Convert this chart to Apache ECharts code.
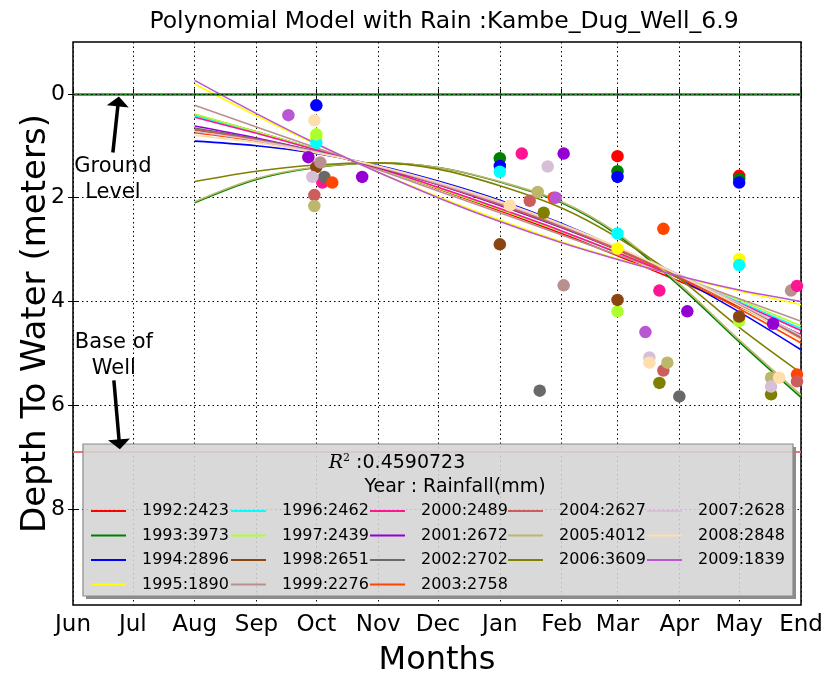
<!DOCTYPE html>
<html><head><meta charset="utf-8">
<script src="https://cdn.jsdelivr.net/npm/echarts@6/dist/echarts.min.js"></script>
<style>html,body{margin:0;padding:0;background:#fff}#chart{width:821px;height:673px}</style>
</head><body><div id="chart"></div>
<script>
// Month boundaries along a hydrological year starting in June (day offsets)
const monthLabels = ['Jun','Jul','Aug','Sep','Oct','Nov','Dec','Jan','Feb','Mar','Apr','May','End'];
const monthDays = [0,30,61,92,122,153,183,214,245,273,304,334,365];
const depthTicks = [0,2,4,6,8];
const curveDays = [61,92,122,153,183,214,245,273,304,334,365];

const years = [1992,1993,1994,1995,1996,1997,1998,1999,2000,2001,2002,2003,2004,2005,2006,2007,2008,2009];
const rainfall = [2423,3973,2896,1890,2462,2439,2651,2276,2489,2672,2702,2758,2627,4012,3609,2628,2848,1839];
const colors = ['#ff0000','#008000','#0000ff','#ffff00','#00ffff','#adff2f','#8b4513','#bc8f8f','#ff1493','#9400d3','#696969','#ff4500','#cd5c5c','#bdb76b','#808000','#d8bfd8','#ffdead','#ba55d3'];

const groundLevel = 0;
const wellBase = 6.9;
const rSquared = '0.4590723';

// Modelled depth (m) at each month boundary in curveDays
const fit1992 = [0.40,0.73,1.07,1.44,1.83,2.25,2.69,3.12,3.61,4.10,4.64];
const fit1993 = [2.10,1.65,1.42,1.33,1.42,1.70,2.10,2.72,3.70,4.78,5.85];
const fit1994 = [0.91,1.00,1.15,1.38,1.68,2.05,2.50,2.97,3.56,4.20,4.93];
const fit1995 = [-0.19,0.42,0.97,1.51,1.98,2.43,2.85,3.18,3.52,3.80,4.06];
const fit1996 = [0.42,0.74,1.07,1.44,1.81,2.22,2.65,3.06,3.53,4.01,4.52];
const fit1997 = [0.39,0.73,1.07,1.44,1.82,2.23,2.65,3.05,3.51,3.97,4.47];
const fit1998 = [0.70,0.89,1.12,1.41,1.73,2.12,2.56,2.99,3.53,4.09,4.72];
const fit1999 = [0.22,0.64,1.04,1.46,1.87,2.29,2.72,3.10,3.53,3.95,4.38];
const fit2000 = [0.45,0.76,1.08,1.43,1.80,2.21,2.64,3.06,3.54,4.03,4.56];
const fit2001 = [0.62,0.85,1.11,1.42,1.75,2.15,2.58,3.01,3.52,4.06,4.66];
const fit2002 = [0.66,0.87,1.11,1.41,1.74,2.13,2.57,3.00,3.52,4.07,4.68];
const fit2003 = [0.75,0.91,1.13,1.40,1.72,2.11,2.55,3.00,3.55,4.14,4.80];
const fit2004 = [0.68,0.88,1.12,1.41,1.74,2.13,2.56,3.00,3.52,4.08,4.70];
const fit2005 = [2.08,1.63,1.41,1.33,1.42,1.69,2.08,2.69,3.66,4.74,5.80];
const fit2006 = [1.69,1.49,1.37,1.33,1.45,1.77,2.20,2.77,3.56,4.50,5.38];
const fit2007 = [0.72,0.90,1.12,1.40,1.72,2.10,2.53,2.96,3.48,4.04,4.66];
const fit2008 = [0.80,0.94,1.14,1.39,1.70,2.07,2.51,2.95,3.50,4.08,4.74];
const fit2009 = [-0.26,0.38,0.96,1.51,2.00,2.46,2.87,3.19,3.51,3.78,4.00];

// Observed depth to water: [day, depth]
const obs1992 = [[273,1.20],[334,1.58]];
const obs1993 = [[214,1.24],[273,1.49],[334,1.64]];
const obs1994 = [[122,0.22],[214,1.39],[273,1.60],[334,1.71]];
const obs1995 = [[122,0.85],[273,2.98],[334,3.18]];
const obs1996 = [[122,0.94],[214,1.50],[273,2.69],[334,3.30]];
const obs1997 = [[122,0.78],[273,4.19],[334,4.38]];
const obs1998 = [[122,1.41],[214,2.90],[273,3.97],[334,4.29]];
const obs1999 = [[124,1.32],[246,3.69],[360,3.79]];
const obs2000 = [[125,1.71],[225,1.15],[294,3.79],[363,3.70]];
const obs2001 = [[118,1.22],[145,1.60],[246,1.15],[308,4.19],[351,4.43]];
const obs2002 = [[126,1.60],[234,5.72],[304,5.83]];
const obs2003 = [[130,1.71],[241,2.00],[296,2.60],[363,5.41]];
const obs2004 = [[121,1.95],[229,2.06],[296,5.33],[363,5.54]];
const obs2005 = [[121,2.16],[233,1.89],[298,5.18],[350,5.47]];
const obs2006 = [[236,2.29],[294,5.57],[350,5.79]];
const obs2007 = [[120,1.60],[238,1.40],[289,5.08],[350,5.64]];
const obs2008 = [[121,0.51],[219,2.15],[289,5.18],[354,5.47]];
const obs2009 = [[108,0.41],[242,2.00],[287,4.59]];

const fits = [fit1992,fit1993,fit1994,fit1995,fit1996,fit1997,fit1998,fit1999,fit2000,fit2001,fit2002,fit2003,fit2004,fit2005,fit2006,fit2007,fit2008,fit2009];
const observations = [obs1992,obs1993,obs1994,obs1995,obs1996,obs1997,obs1998,obs1999,obs2000,obs2001,obs2002,obs2003,obs2004,obs2005,obs2006,obs2007,obs2008,obs2009];

const FONT = 'DejaVu Sans';
const names = years.map((y, i) => y + ':' + rainfall[i]);

const series = [];
years.forEach((y, i) => {
  series.push({
    name: y + ' observed', type: 'scatter', symbolSize: 12.5,
    itemStyle: { color: colors[i], opacity: 1 },
    data: observations[i], z: 3
  });
  series.push({
    name: names[i], type: 'line', symbol: 'none', smooth: 0.35,
    lineStyle: { color: colors[i], width: 1.6 },
    itemStyle: { color: colors[i] },
    data: curveDays.map((d, k) => [d, fits[i][k]]), z: 3
  });
});
// ground level and base of the well
series.push({
  name: 'levels', type: 'line', data: [], silent: true, z: 2,
  markLine: {
    symbol: 'none', silent: true, label: { show: false },
    data: [
      { yAxis: groundLevel, lineStyle: { color: '#1e8c1e', width: 2.5, type: 'solid' } },
      { yAxis: groundLevel, lineStyle: { color: '#000', width: 1, type: [1.5, 3] } },
      { yAxis: wellBase, lineStyle: { color: '#f07070', width: 1.8, type: 'solid' } }
    ]
  }
});

// legend columns: 4,4,4,3,3 entries
const legendCols = [[0,4],[4,8],[8,12],[12,15],[15,18]];
const legendLeft = [91, 231, 370, 508, 647];
const legends = legendCols.map((c, k) => ({
  orient: 'vertical', left: legendLeft[k], top: 502, padding: 0,
  icon: 'rect', itemWidth: 35, itemHeight: 2, itemGap: 6.5, selectedMode: false,
  data: names.slice(c[0], c[1]), z: 20,
  textStyle: { fontFamily: FONT, fontSize: 16, color: '#000', lineHeight: 18, padding: [0, 0, 0, 11] }
}));

const xAxisBase = {
  type: 'value', min: 0, max: 365,
  axisLine: { show: false },
  axisTick: { show: true, inside: true, length: 5, customValues: monthDays, lineStyle: { color: '#000' } },
  splitLine: { show: false }
};
const yAxisBase = {
  type: 'value', min: -1, max: 9.85, inverse: true,
  axisLine: { show: false },
  axisTick: { show: true, inside: true, length: 5, customValues: depthTicks, lineStyle: { color: '#000' } },
  splitLine: { show: false }
};

const chart = echarts.init(document.getElementById('chart'), null, { renderer: 'canvas' });
chart.setOption({
  animation: false,
  backgroundColor: '#fff',
  title: {
    text: 'Polynomial Model with Rain :Kambe_Dug_Well_6.9', left: 439, top: 5, textAlign: 'center',
    textStyle: { fontFamily: FONT, fontSize: 23.5, fontWeight: 'normal', color: '#000' }
  },
  grid: { left: 73, right: 20, top: 42, bottom: 68, outerBoundsMode: 'none', containLabel: false,
    show: true, borderColor: '#000', borderWidth: 1.5, backgroundColor: 'transparent' },
  legend: legends,
  xAxis: [
    Object.assign({}, xAxisBase, {
      position: 'bottom',
      name: 'Months', nameLocation: 'middle', nameGap: 40, nameMoveOverlap: false,
      nameTextStyle: { fontFamily: FONT, fontSize: 32, color: '#000' },
      axisLabel: { show: true, customValues: monthDays, margin: 9, fontFamily: FONT, fontSize: 23, color: '#000',
        formatter: v => monthLabels[monthDays.indexOf(v)] },
      splitLine: { show: true, lineStyle: { color: '#000', width: 1, type: [1.5, 3] } }
    }),
    Object.assign({}, xAxisBase, { position: 'top', axisLabel: { show: false } })
  ],
  yAxis: [
    Object.assign({}, yAxisBase, {
      position: 'left',
      name: 'Depth To Water (meters)', nameLocation: 'middle', nameGap: 20, nameRotate: 90, nameMoveOverlap: false,
      nameTextStyle: { fontFamily: FONT, fontSize: 34, color: '#000' },
      axisLabel: { show: true, customValues: depthTicks, margin: 8, fontFamily: FONT, fontSize: 22, color: '#000' },
      splitLine: { show: true, lineStyle: { color: '#000', width: 1, type: [1.5, 3] } }
    }),
    Object.assign({}, yAxisBase, { position: 'right', axisLabel: { show: false } })
  ],
  series: series
});

// annotations and the legend frame, placed from data coordinates
const px = (d, v) => chart.convertToPixel({ gridIndex: 0 }, [d, v]);
const gTip = px(23, 0.05), gTail = px(20, 1.13), gText = px(20, 1.66);
const bTip = px(23.5, 6.85), bTail = px(20.5, 5.52), bText = px(20.5, 5.05);
const arrowHead = (tip, tail, len, half) => {
  const dx = tip[0] - tail[0], dy = tip[1] - tail[1];
  const L = Math.hypot(dx, dy), ux = dx / L, uy = dy / L;
  const bx = tip[0] - ux * len, by = tip[1] - uy * len;
  return [tip, [bx - uy * half, by + ux * half], [bx + uy * half, by - ux * half]];
};
const shaftEnd = (tip, tail, len) => {
  const dx = tip[0] - tail[0], dy = tip[1] - tail[1];
  const L = Math.hypot(dx, dy);
  return [tip[0] - dx / L * len, tip[1] - dy / L * len];
};
const annText = { fontFamily: FONT, fontSize: 21, fill: '#000', align: 'center', verticalAlign: 'middle', lineHeight: 26 };
const lg = { x: 83, y: 444, w: 710, h: 152 };
const sh = 3;
chart.setOption({
  graphic: [
    { type: 'line', z: 10, shape: { x1: gTail[0], y1: gTail[1], x2: shaftEnd(gTip, gTail, 8)[0], y2: shaftEnd(gTip, gTail, 8)[1] }, style: { stroke: '#000', lineWidth: 3.5 } },
    { type: 'polygon', z: 10, shape: { points: arrowHead(gTip, gTail, 10, 11) }, style: { fill: '#000' } },
    { type: 'text', z: 10, x: gText[0], y: gText[1], style: Object.assign({ text: 'Ground\nLevel' }, annText) },
    { type: 'line', z: 10, shape: { x1: bTail[0], y1: bTail[1], x2: shaftEnd(bTip, bTail, 8)[0], y2: shaftEnd(bTip, bTail, 8)[1] }, style: { stroke: '#000', lineWidth: 3.5 } },
    { type: 'polygon', z: 10, shape: { points: arrowHead(bTip, bTail, 10, 11) }, style: { fill: '#000' } },
    { type: 'text', z: 10, x: bText[0], y: bText[1], style: Object.assign({ text: 'Base of\nWell' }, annText) },
    // drop shadow along the right and bottom edges of the legend frame
    { type: 'polygon', z: 8, shape: { points: [
        [lg.x + lg.w, lg.y + sh], [lg.x + lg.w + sh, lg.y + sh], [lg.x + lg.w + sh, lg.y + lg.h + sh],
        [lg.x + sh, lg.y + lg.h + sh], [lg.x + sh, lg.y + lg.h], [lg.x + lg.w, lg.y + lg.h] ] },
      style: { fill: '#8c8c8c' } },
    { type: 'rect', z: 9, shape: { x: lg.x, y: lg.y, width: lg.w, height: lg.h }, style: { fill: 'rgba(212,212,212,0.88)', stroke: '#8a8a8a', lineWidth: 1.2 } },
    { type: 'text', z: 11, x: 397, y: 463, style: {
        text: '{r|R}{s|2}{t| :' + rSquared + '}', align: 'center', verticalAlign: 'middle',
        rich: {
          r: { fontFamily: 'DejaVu Serif', fontStyle: 'italic', fontSize: 19, fill: '#000' },
          s: { fontFamily: 'DejaVu Serif', fontSize: 11, fill: '#000', verticalAlign: 'top', padding: [0, 0, 10, 0] },
          t: { fontFamily: FONT, fontSize: 19, fill: '#000' }
        } } },
    { type: 'text', z: 11, x: 455, y: 487, style: { text: 'Year : Rainfall(mm)', fontFamily: FONT, fontSize: 19, fill: '#000', align: 'center', verticalAlign: 'middle' } }
  ]
});
</script></body></html>
